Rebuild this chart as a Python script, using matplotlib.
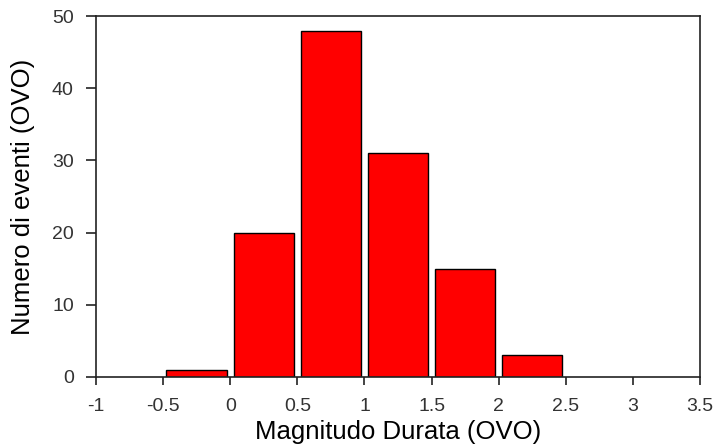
import matplotlib
matplotlib.use("Agg")
import matplotlib.pyplot as plt

plt.rcParams['font.family'] = ['Liberation Sans', 'DejaVu Sans']

bin_centers = [-0.25, 0.25, 0.75, 1.25, 1.75, 2.25]
counts = [1, 20, 48, 31, 15, 3]
x_ticks = [-1, -0.5, 0, 0.5, 1, 1.5, 2, 2.5, 3, 3.5]
x_tick_labels = ['-1', '-0.5', '0', '0.5', '1', '1.5', '2', '2.5', '3', '3.5']
y_ticks = [0, 10, 20, 30, 40, 50]

fig = plt.figure(figsize=(7.18, 4.48), dpi=100)
ax = fig.add_axes([0.1337, 0.1585, 0.8413, 0.8055])

ax.bar(bin_centers, counts, width=0.45, color='#ff0000', edgecolor='black',
       linewidth=1.0)

ax.set_xlim(-1, 3.5)
ax.set_ylim(0, 50)
ax.set_xticks(x_ticks)
ax.set_xticklabels(x_tick_labels)
ax.set_yticks(y_ticks)

for s in ax.spines.values():
    s.set_linewidth(1.2)
    s.set_color('#222222')
ax.tick_params(direction='out', width=1.2, labelsize=14,
               colors='#222222', labelcolor='#333333')
ax.tick_params(axis='x', length=6, pad=9)
ax.tick_params(axis='y', length=7, pad=9)

ax.set_xlabel('Magnitudo Durata (OVO)', fontsize=18.5, labelpad=4)
ax.set_ylabel('Numero di eventi (OVO)', fontsize=18.5, labelpad=12)

fig.savefig('out.png', dpi=100, facecolor='white')
